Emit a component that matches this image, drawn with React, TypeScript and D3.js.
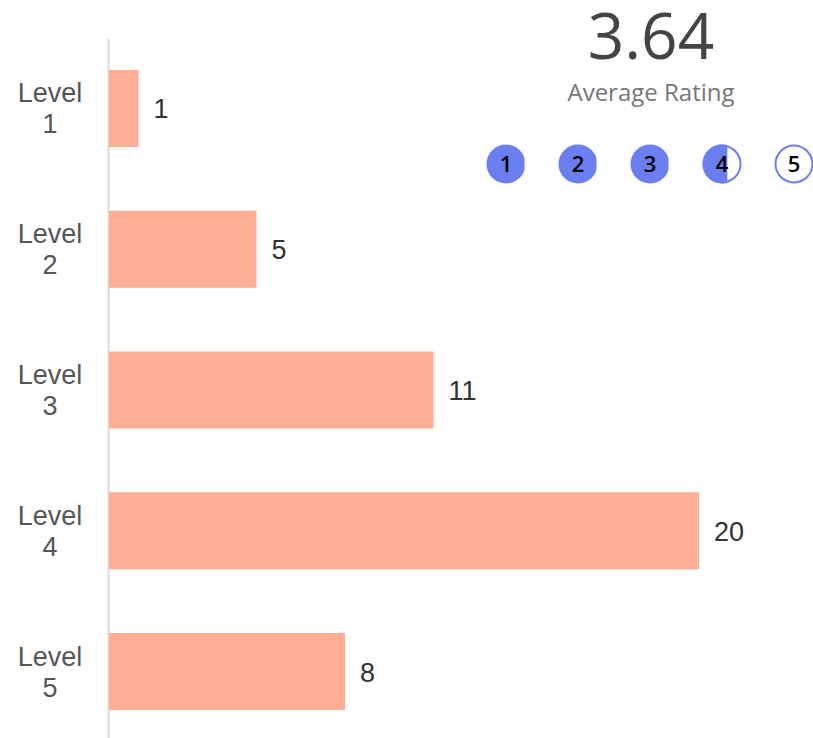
import React, { useEffect, useRef } from "react";
import * as d3 from "d3";

const levels = ["Level 1", "Level 2", "Level 3", "Level 4", "Level 5"];
const counts = [1, 5, 11, 20, 8];
const ratingSteps = [1, 2, 3, 4, 5];

export default function App() {
  const svgRef = useRef<SVGSVGElement | null>(null);

  useEffect(() => {
    if (!svgRef.current) return;
    const svg = d3.select(svgRef.current);
    svg.selectAll("*").remove();

    const height = 738;

    // weighted average of the levels
    const total = d3.sum(counts);
    const avg = d3.sum(counts, (c, i) => c * ratingSteps[i]) / total;

    const x = d3.scaleLinear().domain([0, 20]).range([109, 699]);
    const y = d3
      .scaleBand<string>()
      .domain(levels)
      .range([39, 741])
      .paddingInner(0.453)
      .paddingOuter(0.22);

    // axis line
    svg
      .append("line")
      .attr("x1", 108.5)
      .attr("x2", 108.5)
      .attr("y1", 39)
      .attr("y2", height)
      .attr("stroke", "#dcdcdc")
      .attr("stroke-width", 2);

    svg
      .append("g")
      .selectAll("rect")
      .data(levels)
      .join("rect")
      .attr("x", x(0))
      .attr("y", (d) => y(d)!)
      .attr("width", (d, i) => x(counts[i]) - x(0))
      .attr("height", y.bandwidth())
      .attr("fill", "#ffad95");

    // category labels on two lines
    const labels = svg
      .append("g")
      .attr("font-family", "Liberation Sans, Arial, sans-serif")
      .attr("font-size", 27)
      .attr("fill", "#555")
      .attr("text-anchor", "middle");
    levels.forEach((lv) => {
      const [word, num] = lv.split(" ");
      const cy = y(lv)! + y.bandwidth() / 2;
      const t = labels.append("text").attr("x", 50);
      t.append("tspan").attr("x", 50).attr("y", cy - 6).text(word);
      t.append("tspan").attr("x", 50).attr("y", cy + 25).text(num);
    });

    svg
      .append("g")
      .attr("font-family", "Liberation Sans, Arial, sans-serif")
      .attr("font-size", 27)
      .attr("fill", "#333")
      .selectAll("text")
      .data(levels)
      .join("text")
      .attr("x", (d, i) => x(counts[i]) + 15)
      .attr("y", (d) => y(d)! + y.bandwidth() / 2 + 10)
      .text((d, i) => counts[i]);

    // rating summary
    const cx = 651;
    svg
      .append("text")
      .attr("x", cx)
      .attr("y", 59)
      .attr("text-anchor", "middle")
      .attr("font-family", "Open Sans, sans-serif")
      .attr("font-size", 64)
      .attr("fill", "#444")
      .text(avg.toFixed(2));

    svg
      .append("text")
      .attr("x", cx)
      .attr("y", 101)
      .attr("text-anchor", "middle")
      .attr("font-family", "Open Sans, sans-serif")
      .attr("font-size", 24)
      .attr("fill", "#777")
      .text("Average Rating");

    const px = d3.scalePoint<number>().domain(ratingSteps).range([506, 794]);
    const r = 18.5;
    const cy = 164;
    const blue = "#6a7ef0";
    const defs = svg.append("defs");

    ratingSteps.forEach((s) => {
      const frac = Math.max(0, Math.min(1, avg - (s - 1)));
      const g = svg.append("g");
      if (frac < 1) {
        g.append("circle")
          .attr("cx", px(s)!)
          .attr("cy", cy)
          .attr("r", r)
          .attr("fill", "#fff")
          .attr("stroke", blue)
          .attr("stroke-width", 2);
      }
      if (frac > 0) {
        const id = `clip-${s}`;
        defs
          .append("clipPath")
          .attr("id", id)
          .append("rect")
          .attr("x", px(s)! - r - 2)
          .attr("y", cy - r - 2)
          .attr("width", frac * 2 * r + 2)
          .attr("height", 2 * r + 4);
        g.append("circle")
          .attr("cx", px(s)!)
          .attr("cy", cy)
          .attr("r", r + 1)
          .attr("fill", blue)
          .attr("clip-path", `url(#${id})`);
      }
      g.append("text")
        .attr("x", px(s)!)
        .attr("y", cy + 8)
        .attr("text-anchor", "middle")
        .attr("font-family", "Open Sans, sans-serif")
        .attr("font-weight", 600)
        .attr("font-size", 22)
        .attr("fill", "#000")
        .text(s);
    });
  }, []);

  return (
    <svg
      ref={svgRef}
      width={813}
      height={738}
      style={{ position: "absolute", left: 0, top: 0, background: "#fff" }}
    />
  );
}
